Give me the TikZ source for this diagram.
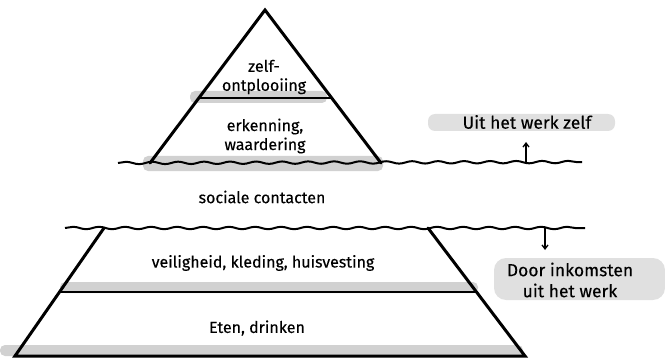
\documentclass[tikz,border=0pt]{standalone}
\usepackage{fontspec}
\setmainfont{Fira Sans}[FakeBold=0.3]
\usetikzlibrary{calc, arrows.meta, decorations.pathmorphing}

\begin{document}
\begin{tikzpicture}[x=1pt, y=-1pt,
  lbl/.style={font=\fontsize{16}{19}\selectfont, align=center, inner sep=1pt},
  biglbl/.style={font=\fontsize{17.5}{21}\selectfont, align=center, inner sep=1pt},
  side/.style={line width=3pt, line cap=round},
  sep/.style={line width=2.2pt},
  wave/.style={line width=2pt, decorate, decoration={snake, amplitude=1.2pt, segment length=26pt}},
  shade/.style={fill=black!18, rounded corners=5pt},
  arr/.style={-{Straight Barb[length=4pt, width=6pt]}, line width=1.3pt},
]
\useasboundingbox (0,0) rectangle (665,361);

% Shadows
\fill[shade] (190,91) rectangle (327,103);
\fill[shade] (143,156) rectangle (383,171);
\fill[shade] (60,282) rectangle (478,293);
\fill[shade] (0,345) rectangle (523,356);
\fill[black!12, rounded corners=7pt] (428,114) rectangle (615,131);
\fill[black!12, rounded corners=12pt] (494,258) rectangle (665,300);

% Corners
\coordinate (apex) at (265,10);
\coordinate (tl) at (150,163);
\coordinate (tr) at (381,163);
\coordinate (bl) at (104,228);
\coordinate (br) at (428,228);
\coordinate (fl) at (15,356);
\coordinate (fr) at (525,356);

% Pyramid
\draw[side] (tl) -- (apex) -- (tr);
\draw[sep] ($(apex)!0.575!(tl)$) -- ($(apex)!0.575!(tr)$);
\draw[side] (bl) -- (fl) -- (fr) -- (br);
\draw[sep] ($(bl)!0.5!(fl)$) -- ($(br)!0.5!(fr)$);

% Waterlines
\coordinate (w1a) at (118,163);
\coordinate (w1b) at (582,162);
\coordinate (w2a) at (65,228);
\coordinate (w2b) at (585,228);
\draw[wave] (w1a) -- (w1b);
\draw[wave] (w2a) -- (w2b);

% Labels
\node[lbl] (zelf) at (264,77) {zelf-\\ontplooiing};
\node[lbl] (erk) at (265,136) {erkenning,\\waardering};
\node[lbl] (soc) at (262,197) {sociale contacten};
\node[lbl] (veil) at (263,263) {veiligheid, kleding, huisvesting};
\node[lbl] (eten) at (257,328) {Eten, drinken};
\node[biglbl] (werk) at (527,122) {Uit het werk zelf};
\node[biglbl] (inkom) at (570,280) {Door inkomsten\\uit het werk};

% Arrows
\coordinate (up1) at (526,162);
\coordinate (up2) at (526,142);
\coordinate (dn1) at (545,228);
\coordinate (dn2) at (545,250);
\draw[arr] (up1) -- (up2);
\draw[arr] (dn1) -- (dn2);

\end{tikzpicture}
\end{document}
